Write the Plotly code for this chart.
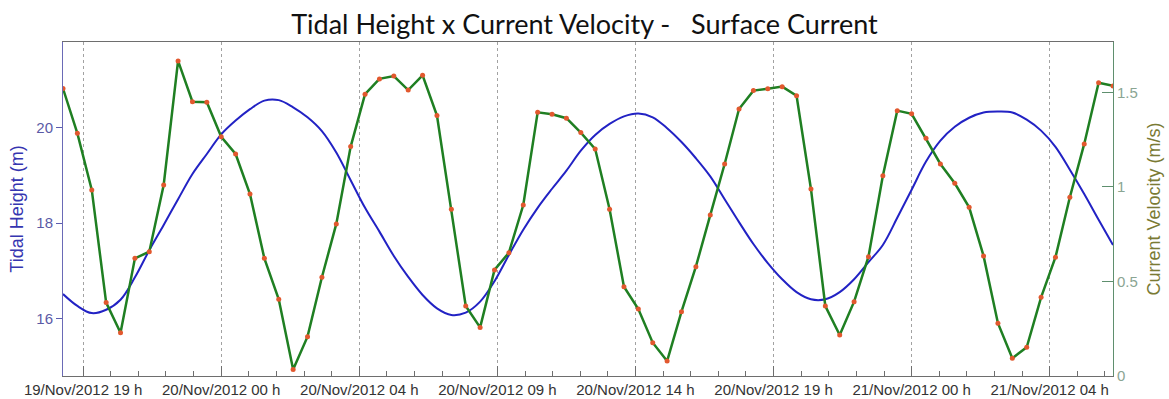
import pandas as pd
import plotly.graph_objects as go

# Half-hourly samples, 19/Nov/2012 18:30 to 21/Nov/2012 07:00
sample_times = pd.date_range("2012-11-19 18:30", "2012-11-21 07:00", freq="30min")

# Tidal height (m)
tidal_height = [
    16.51, 16.26, 16.11, 16.18, 16.39, 16.86, 17.43, 17.96, 18.50, 19.03,
    19.45, 19.86, 20.15, 20.39, 20.57, 20.58, 20.43, 20.22, 19.93, 19.48,
    18.90, 18.32, 17.82, 17.31, 16.87, 16.49, 16.21, 16.07, 16.12, 16.35,
    16.78, 17.33, 17.86, 18.32, 18.72, 19.10, 19.52, 19.85, 20.08, 20.24,
    20.30, 20.22, 19.99, 19.70, 19.36, 18.98, 18.50, 18.02, 17.56, 17.16,
    16.82, 16.55, 16.40, 16.40, 16.55, 16.82, 17.18, 17.54, 18.11, 18.70,
    19.29, 19.73, 20.02, 20.21, 20.32, 20.34, 20.32, 20.17, 19.94, 19.60,
    19.12, 18.61, 18.07, 17.54,
]

# Surface current velocity (m/s)
current_velocity = [
    1.520, 1.283, 0.984, 0.388, 0.229, 0.622, 0.657, 1.010, 1.666, 1.450,
    1.447, 1.265, 1.174, 0.962, 0.622, 0.406, 0.035, 0.208, 0.522, 0.804,
    1.213, 1.490, 1.571, 1.586, 1.512, 1.590, 1.377, 0.882, 0.370, 0.257,
    0.561, 0.652, 0.904, 1.394, 1.384, 1.363, 1.287, 1.200, 0.882, 0.472,
    0.354, 0.176, 0.079, 0.340, 0.578, 0.851, 1.121, 1.412, 1.509, 1.519,
    1.530, 1.482, 0.989, 0.370, 0.217, 0.393, 0.631, 1.059, 1.403, 1.386,
    1.257, 1.121, 1.019, 0.892, 0.635, 0.279, 0.094, 0.152, 0.416, 0.628,
    0.945, 1.227, 1.551, 1.534,
]

# Labelled time ticks (every 0.2 day)
tick_times = [
    "2012-11-19 19:12", "2012-11-20 00:00", "2012-11-20 04:48", "2012-11-20 09:36",
    "2012-11-20 14:24", "2012-11-20 19:12", "2012-11-21 00:00", "2012-11-21 04:48",
]
tick_labels = [
    "19/Nov/2012 19 h", "20/Nov/2012 00 h", "20/Nov/2012 04 h", "20/Nov/2012 09 h",
    "20/Nov/2012 14 h", "20/Nov/2012 19 h", "21/Nov/2012 00 h", "21/Nov/2012 04 h",
]

height_ticks = [16, 18, 20]
velocity_ticks = [0, 0.5, 1, 1.5]
velocity_tick_labels = ["0", "0.5", "1", "1.5"]

height_range = [14.79, 21.80]
velocity_range = [0, 1.766]
time_range = [sample_times[0], sample_times[-1]]

BLUE = "#2222c4"
GREEN = "#1f7f22"
MARK = "#e2582e"
AXIS_GREY = "#6e6e6e"
FONT = "Liberation Sans, Arial, sans-serif"

fig = go.Figure()

fig.add_trace(go.Scatter(
    x=sample_times, y=tidal_height, mode="lines",
    line=dict(color=BLUE, width=2, shape="spline", smoothing=1.0),
    yaxis="y", xaxis="x", showlegend=False, hoverinfo="skip",
))

fig.add_trace(go.Scatter(
    x=sample_times, y=current_velocity, mode="lines+markers",
    line=dict(color=GREEN, width=2.5),
    marker=dict(color=MARK, size=5, line=dict(width=0)),
    yaxis="y2", xaxis="x", showlegend=False, hoverinfo="skip",
))

fig.update_layout(
    width=1169, height=399,
    margin=dict(l=63, r=56, t=42, b=23, pad=0),
    paper_bgcolor="white", plot_bgcolor="white",
    font=dict(family=FONT, size=15, color="#333333"),
    title=dict(
        text="Tidal Height x Current Velocity -\u00a0\u00a0\u00a0Surface Current",
        x=0.5, xanchor="center", y=1 - 25 / 399, yanchor="middle",
        font=dict(family="Lato, Open Sans, sans-serif", size=27, color="#111111"),
    ),
    xaxis=dict(
        type="date", range=time_range, automargin=False,
        tickmode="array", tickvals=tick_times, ticktext=tick_labels,
        ticks="inside", ticklen=10, tickwidth=1, tickcolor=AXIS_GREY,
        showline=True, linecolor=AXIS_GREY, linewidth=1, mirror=True,
        showgrid=True, gridcolor="#a2a2a2", griddash="dot", gridwidth=1,
        zeroline=False,
        tickfont=dict(family=FONT, size=15, color="#333333"),
        minor=dict(
            tick0="2012-11-19 19:12", dtick=3456000,
            ticks="inside", ticklen=5, tickcolor=AXIS_GREY, showgrid=False,
        ),
    ),
    xaxis2=dict(
        type="date", range=time_range, overlaying="x", side="top", anchor="y",
        tickmode="array", tickvals=tick_times, showticklabels=False,
        ticks="outside", ticklen=6, tickcolor="#9a9a9a", showline=False,
        showgrid=False, zeroline=False, automargin=False,
    ),
    yaxis=dict(
        range=height_range, automargin=False,
        tickmode="array", tickvals=height_ticks,
        ticks="outside", ticklen=6, tickcolor="#5c5cae",
        showline=True, linecolor="#6a6ab6", linewidth=1,
        showgrid=False, zeroline=False,
        tickfont=dict(family=FONT, size=15, color="#5a5aa6"),
        title=dict(text="Tidal Height (m)", standoff=8,
                   font=dict(family=FONT, size=18, color="#3535b0")),
    ),
    yaxis2=dict(
        range=velocity_range, overlaying="y", side="right", anchor="x",
        automargin=False,
        tickmode="array", tickvals=velocity_ticks, ticktext=velocity_tick_labels,
        ticks="inside", ticklen=11, tickcolor="#5f8f6e",
        showline=True, linecolor="#5f8f6e", linewidth=1,
        showgrid=False, zeroline=False,
        tickfont=dict(family=FONT, size=15, color="#8aa593"),
        title=dict(text="Current Velocity (m/s)", standoff=10,
                   font=dict(family=FONT, size=18, color="#7a7a34")),
    ),
    yaxis3=dict(
        range=height_range, overlaying="y", side="right", anchor="x",
        automargin=False,
        tickmode="array", tickvals=height_ticks, showticklabels=False,
        ticks="inside", ticklen=11, tickcolor="#5c5cae",
        showline=False, showgrid=False, zeroline=False,
    ),
)

fig.write_html("out.html")
